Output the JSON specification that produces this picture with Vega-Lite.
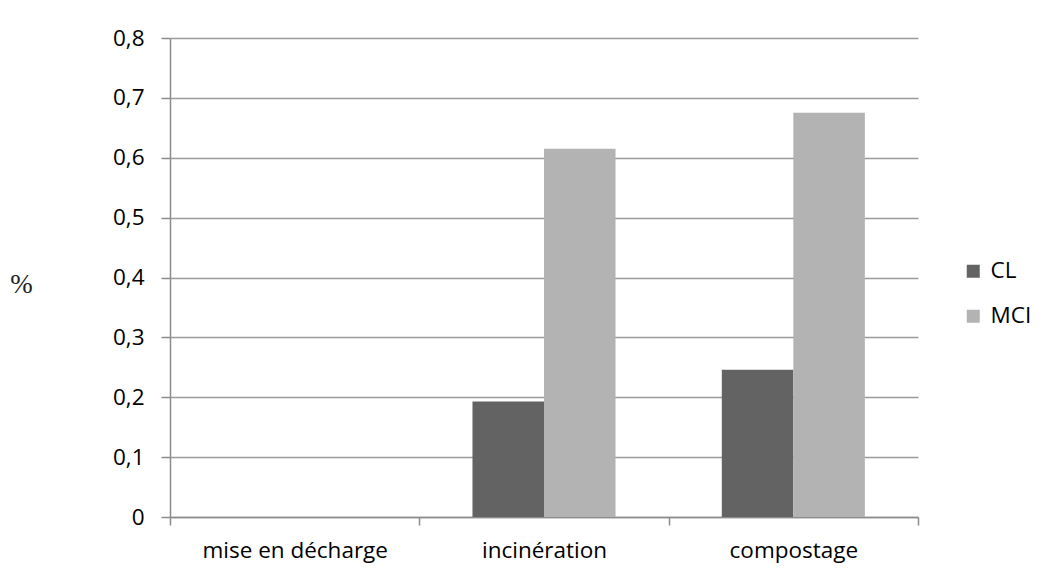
{
  "$schema": "https://vega.github.io/schema/vega-lite/v6.json",
  "width": 748,
  "height": 479,
  "autosize": {"type": "none"},
  "padding": {"left": 170, "top": 38, "right": 125, "bottom": 62},
  "background": "white",
  "data": {
    "values": [
      {"categorie": "mise en décharge", "serie": "CL", "valeur": 0},
      {"categorie": "mise en décharge", "serie": "MCI", "valeur": 0},
      {"categorie": "incinération", "serie": "CL", "valeur": 0.193},
      {"categorie": "incinération", "serie": "MCI", "valeur": 0.615},
      {"categorie": "compostage", "serie": "CL", "valeur": 0.246},
      {"categorie": "compostage", "serie": "MCI", "valeur": 0.675}
    ]
  },
  "mark": {"type": "bar"},
  "encoding": {
    "x": {
      "field": "categorie",
      "type": "nominal",
      "sort": ["mise en décharge", "incinération", "compostage"],
      "scale": {"paddingInner": 0, "paddingOuter": 0},
      "axis": {
        "title": null,
        "labelAngle": 0,
        "labelLimit": 400,
        "tickBand": "extent",
        "grid": false,
        "domainColor": "#8c8c8c",
        "domainWidth": 1.5,
        "tickColor": "#8c8c8c",
        "tickWidth": 1.5,
        "tickSize": 8,
        "labelPadding": 14,
        "labelFont": "Open Sans",
        "labelFontSize": 22.5,
        "labelColor": "#000000"
      }
    },
    "xOffset": {
      "field": "serie",
      "type": "nominal",
      "scale": {"paddingInner": 0, "paddingOuter": 0.743}
    },
    "y": {
      "field": "valeur",
      "type": "quantitative",
      "scale": {"domain": [0, 0.8]},
      "axis": {
        "values": [0, 0.1, 0.2, 0.3, 0.4, 0.5, 0.6, 0.7, 0.8],
        "labelExpr": "datum.value == 0 ? '0' : replace(format(datum.value, '.1f'), '.', ',')",
        "title": "%",
        "titleAngle": 0,
        "titleX": -149,
        "titleY": 246,
        "titleAlign": "center",
        "titleBaseline": "middle",
        "titleFont": "Liberation Serif",
        "titleFontWeight": "normal",
        "titleFontSize": 27,
        "titleColor": "#222222",
        "grid": true,
        "gridColor": "#9a9a9a",
        "gridWidth": 1.5,
        "domainColor": "#8c8c8c",
        "domainWidth": 1.5,
        "tickColor": "#8c8c8c",
        "tickWidth": 1.5,
        "tickSize": 9,
        "labelPadding": 17,
        "labelFont": "Open Sans",
        "labelFontSize": 22.5,
        "labelColor": "#000000"
      }
    },
    "color": {
      "field": "serie",
      "type": "nominal",
      "scale": {"domain": ["CL", "MCI"], "range": ["#636363", "#b3b3b3"]},
      "legend": {
        "title": null,
        "orient": "none",
        "legendX": 792,
        "legendY": 222,
        "symbolType": "square",
        "symbolSize": 169,
        "symbolStrokeWidth": 0,
        "rowPadding": 22,
        "labelFont": "Open Sans",
        "labelFontSize": 22.5,
        "labelColor": "#000000",
        "labelOffset": 6
      }
    }
  },
  "config": {
    "view": {"stroke": null}
  }
}
